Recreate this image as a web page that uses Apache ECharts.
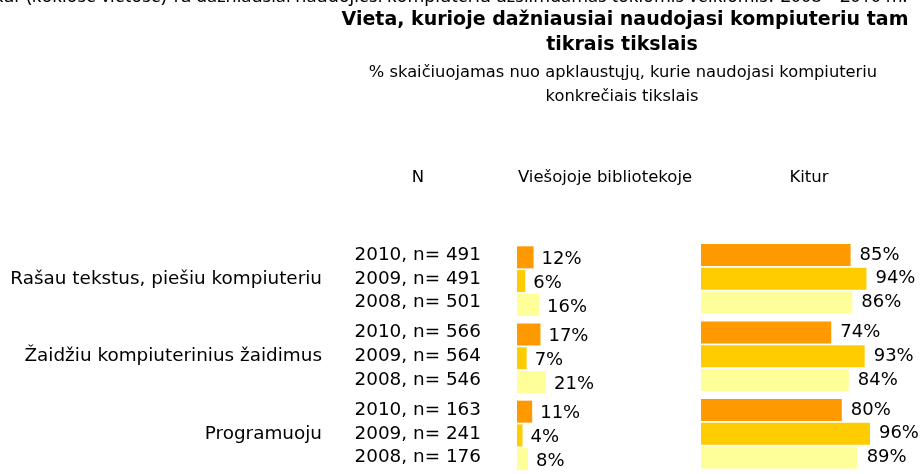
<!DOCTYPE html>
<html>
<head>
<meta charset="utf-8">
<script src="https://cdn.jsdelivr.net/npm/echarts@6/dist/echarts.min.js"></script>
<style>
  html, body { margin: 0; padding: 0; background: #fff; }
  #main { width: 924px; height: 474px; }
</style>
</head>
<body>
<div id="main"></div>
<script>
// veiklos (kategorijos)
var categories = ['Rašau tekstus, piešiu kompiuteriu', 'Žaidžiu kompiuterinius žaidimus', 'Programuoju'];
var years = ['2010', '2009', '2008'];
// N (apklaustųjų skaičius)
var n2010 = [491, 566, 163];
var n2009 = [491, 564, 241];
var n2008 = [501, 546, 176];
// Viešojoje bibliotekoje, %
var lib2010 = [12, 17, 11];
var lib2009 = [6, 7, 4];
var lib2008 = [16, 21, 8];
// Kitur, %
var kit2010 = [85, 74, 80];
var kit2009 = [94, 93, 96];
var kit2008 = [86, 84, 89];

var colors = ['#FF9900', '#FFCC00', '#FFFF99'];
var font = 'DejaVu Sans';

var chart = echarts.init(document.getElementById('main'));

function catAxis(idx, showLabel) {
    return {
        type: 'category', gridIndex: idx, data: categories, inverse: true,
        axisLine: {show: false}, axisTick: {show: false}, splitLine: {show: false},
        axisLabel: {show: showLabel, margin: 8, color: '#000', fontSize: 18.4, fontFamily: font}
    };
}
function valAxis(idx, max) {
    return {type: 'value', gridIndex: idx, min: 0, max: max, show: false, splitLine: {show: false}};
}

var nData = [n2010, n2009, n2008];
var libData = [lib2010, lib2009, lib2008];
var kitData = [kit2010, kit2009, kit2008];

var series = [];
// stulpelis N: nematomi stulpeliai, tik etiketės
years.forEach(function (y, i) {
    series.push({
        name: y + ' N', type: 'bar', xAxisIndex: 0, yAxisIndex: 0,
        barWidth: 22, barGap: '8%',
        data: nData[i].map(function () { return 1; }),
        itemStyle: {color: 'rgba(0,0,0,0)'},
        label: {show: true, position: 'insideRight', distance: 0, color: '#000', fontSize: 18.4, fontFamily: font,
            formatter: function (p) { return y + ', n= ' + nData[i][p.dataIndex]; }},
        silent: true
    });
});
years.forEach(function (y, i) {
    series.push({
        name: y, type: 'bar', xAxisIndex: 1, yAxisIndex: 1,
        barWidth: 22, barGap: '8%',
        data: libData[i],
        itemStyle: {color: colors[i]},
        label: {show: true, position: 'right', distance: 8, offset: [0, 2], color: '#000', fontSize: 18, fontFamily: font,
            formatter: '{c}%'}
    });
});
years.forEach(function (y, i) {
    series.push({
        name: y, type: 'bar', xAxisIndex: 2, yAxisIndex: 2,
        barWidth: 22, barGap: '8%',
        data: kitData[i],
        itemStyle: {color: colors[i]},
        label: {show: true, position: 'right', distance: 9, color: '#000', fontSize: 18, fontFamily: font,
            formatter: '{c}%'}
    });
});

function txt(x, y, text, size, opts) {
    opts = opts || {};
    return {
        type: 'text', x: x, y: y, silent: true,
        style: {
            text: text, fill: '#000', align: opts.align || 'center', verticalAlign: opts.va || 'middle',
            font: (opts.bold ? 'bold ' : '') + size + 'px ' + (opts.family || font)
        }
    };
}

var option = {
    backgroundColor: '#fff',
    animation: false,
    grid: [
        {left: 330, width: 151, top: 240, height: 232.5},
        {left: 517, width: 138, top: 242.5, height: 234},
        {left: 701, width: 176, top: 240, height: 232.5}
    ],
    xAxis: [valAxis(0, 1), valAxis(1, 100), valAxis(2, 100)],
    yAxis: [catAxis(0, true), catAxis(1, false), catAxis(2, false)],
    series: series,
    graphic: [
        txt(-8, 6, 'Kur (kokiose vietose) Tu dažniausiai naudojiesi kompiuteriu užsiimdamas tokiomis veiklomis? 2008 – 2010 m.', 18,
            {align: 'left', va: 'bottom', family: 'Noto Sans'}),
        txt(625, 20, 'Vieta, kurioje dažniausiai naudojasi kompiuteriu tam', 19, {bold: true}),
        txt(622, 45, 'tikrais tikslais', 19, {bold: true}),
        txt(623, 73, '% skaičiuojamas nuo apklaustųjų, kurie naudojasi kompiuteriu', 16.3),
        txt(622, 97, 'konkrečiais tikslais', 16.3),
        txt(418, 178, 'N', 16.5),
        txt(605, 178, 'Viešojoje bibliotekoje', 16.5),
        txt(809, 178, 'Kitur', 16.5)
    ]
};
chart.setOption(option);
</script>
</body>
</html>
